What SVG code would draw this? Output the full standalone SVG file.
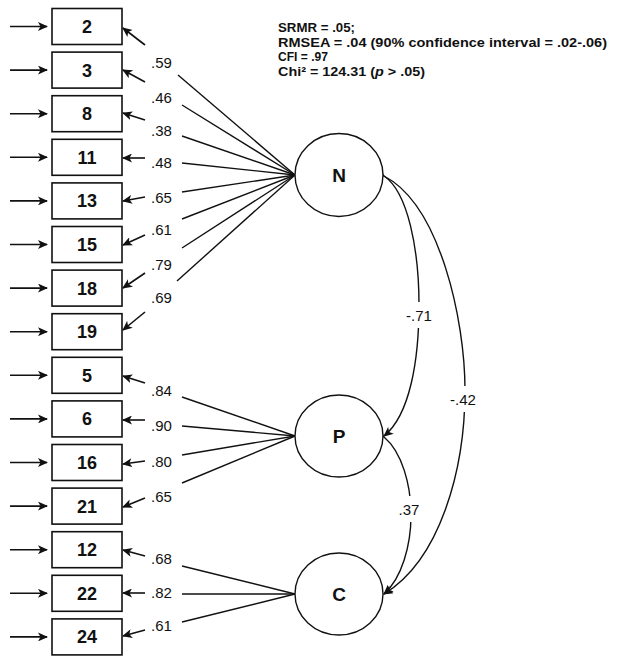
<svg xmlns="http://www.w3.org/2000/svg" width="617" height="656" viewBox="0 0 617 656">
<defs>
<marker id="ah" markerUnits="userSpaceOnUse" markerWidth="10" markerHeight="9" refX="9" refY="4.5" orient="auto">
<path d="M0,0 L10,4.5 L0,9 L2.5,4.5 z" fill="#111"/>
</marker>
<style>
.box{fill:#fff;stroke:#111;stroke-width:1.6}
.lat{fill:#fff;stroke:#111;stroke-width:1.4}
.ln{stroke:#111;stroke-width:1.4;fill:none}
.arr{stroke:#111;stroke-width:1.6;fill:none;marker-end:url(#ah)}
.cov{stroke:#111;stroke-width:1.4;fill:none;marker-start:url(#ah);marker-end:url(#ah)}
.num{font-family:"Liberation Sans",Arial,sans-serif;font-weight:bold;font-size:18px;fill:#111;text-anchor:middle}
.lbl{font-family:"Liberation Sans",Arial,sans-serif;font-size:15px;fill:#111}
.hd{font-family:"Liberation Sans",Arial,sans-serif;font-weight:bold;font-size:12.5px;fill:#111}
.lv{font-family:"Liberation Sans",Arial,sans-serif;font-weight:bold;font-size:19px;fill:#111;text-anchor:middle}
</style>
</defs>
<rect width="617" height="656" fill="#fff"/>

<g id="fit">
<text class="hd" x="278" y="32" textLength="77" lengthAdjust="spacingAndGlyphs">SRMR = .05;</text>
<text class="hd" x="278" y="46.5" textLength="329" lengthAdjust="spacingAndGlyphs">RMSEA = .04 (90%  confidence interval = .02-.06)</text>
<text class="hd" x="278" y="61" textLength="50" lengthAdjust="spacingAndGlyphs">CFI = .97</text>
<text class="hd" x="278" y="75.5" textLength="147" lengthAdjust="spacingAndGlyphs">Chi² = 124.31 (<tspan font-style="italic">p</tspan> &gt; .05)</text>
</g>

<g id="connectors">
<!-- error arrows -->
<line class="arr" x1="10" y1="26.5" x2="47" y2="26.5"/>
<line class="arr" x1="10" y1="70.1" x2="47" y2="70.1"/>
<line class="arr" x1="10" y1="113.7" x2="47" y2="113.7"/>
<line class="arr" x1="10" y1="157.3" x2="47" y2="157.3"/>
<line class="arr" x1="10" y1="200.9" x2="47" y2="200.9"/>
<line class="arr" x1="10" y1="244.5" x2="47" y2="244.5"/>
<line class="arr" x1="10" y1="288.1" x2="47" y2="288.1"/>
<line class="arr" x1="10" y1="331.7" x2="47" y2="331.7"/>
<line class="arr" x1="10" y1="375.3" x2="47" y2="375.3"/>
<line class="arr" x1="10" y1="418.9" x2="47" y2="418.9"/>
<line class="arr" x1="10" y1="462.5" x2="47" y2="462.5"/>
<line class="arr" x1="10" y1="506.1" x2="47" y2="506.1"/>
<line class="arr" x1="10" y1="549.7" x2="47" y2="549.7"/>
<line class="arr" x1="10" y1="593.3" x2="47" y2="593.3"/>
<line class="arr" x1="10" y1="636.9" x2="47" y2="636.9"/>

<!-- N loadings -->
<line class="ln" x1="295" y1="175" x2="178" y2="75"/>
<line class="ln" x1="295" y1="175" x2="182" y2="105"/>
<line class="ln" x1="295" y1="175" x2="182" y2="136"/>
<line class="ln" x1="295" y1="175" x2="182" y2="163"/>
<line class="ln" x1="295" y1="175" x2="182" y2="192"/>
<line class="ln" x1="295" y1="175" x2="182" y2="219"/>
<line class="ln" x1="295" y1="175" x2="182" y2="248"/>
<line class="ln" x1="295" y1="175" x2="177" y2="281"/>
<line class="arr" x1="145" y1="45" x2="123" y2="28"/>
<line class="arr" x1="145" y1="82" x2="123" y2="70"/>
<line class="arr" x1="145" y1="120" x2="123" y2="113"/>
<line class="arr" x1="145" y1="158" x2="123" y2="158"/>
<line class="arr" x1="145" y1="197" x2="123" y2="201"/>
<line class="arr" x1="145" y1="235" x2="123" y2="245"/>
<line class="arr" x1="145" y1="273" x2="123" y2="288"/>
<line class="arr" x1="145" y1="312" x2="123" y2="330"/>

<!-- P loadings -->
<line class="ln" x1="295" y1="436" x2="182" y2="397"/>
<line class="ln" x1="295" y1="436" x2="182" y2="426"/>
<line class="ln" x1="295" y1="436" x2="182" y2="455"/>
<line class="ln" x1="295" y1="436" x2="182" y2="483"/>
<line class="arr" x1="145" y1="383" x2="123" y2="376"/>
<line class="arr" x1="145" y1="420" x2="123" y2="420"/>
<line class="arr" x1="145" y1="461" x2="123" y2="464"/>
<line class="arr" x1="145" y1="498" x2="123" y2="507"/>

<!-- C loadings -->
<line class="ln" x1="295" y1="594" x2="182" y2="566"/>
<line class="ln" x1="295" y1="594" x2="182" y2="594"/>
<line class="ln" x1="295" y1="594" x2="182" y2="622"/>
<line class="arr" x1="145" y1="556" x2="123" y2="550"/>
<line class="arr" x1="145" y1="593" x2="123" y2="593"/>
<line class="arr" x1="145" y1="630" x2="123" y2="636"/>

<!-- covariances -->
<path class="cov" d="M384,176 C408,192 419,250 419,305 C419,360 410,415 384,436"/>
<path class="cov" d="M384,176 C440,205 465,320 465,390 C465,470 440,560 384,594"/>
<path class="cov" d="M384,437 C402,452 411,485 411,515 C411,545 402,578 384,594"/>
</g>

<g id="labels">
<text class="lbl" x="151" y="68">.59</text>
<text class="lbl" x="151" y="103">.46</text>
<text class="lbl" x="151" y="136">.38</text>
<text class="lbl" x="151" y="168">.48</text>
<text class="lbl" x="151" y="203">.65</text>
<text class="lbl" x="151" y="235">.61</text>
<text class="lbl" x="151" y="270">.79</text>
<text class="lbl" x="151" y="303">.69</text>
<text class="lbl" x="151" y="396">.84</text>
<text class="lbl" x="151" y="431">.90</text>
<text class="lbl" x="151" y="467">.80</text>
<text class="lbl" x="151" y="502">.65</text>
<text class="lbl" x="151" y="564">.68</text>
<text class="lbl" x="151" y="598">.82</text>
<text class="lbl" x="151" y="631">.61</text>
<rect x="401" y="302" width="36" height="26" fill="#fff"/>
<text class="lbl" x="419" y="321" text-anchor="middle">-.71</text>
<rect x="446" y="386" width="36" height="26" fill="#fff"/>
<text class="lbl" x="463" y="405" text-anchor="middle">-.42</text>
<rect x="395" y="496" width="30" height="26" fill="#fff"/>
<text class="lbl" x="409" y="515" text-anchor="middle">.37</text>
</g>

<g id="n2"><rect class="box" x="52" y="8.5" width="70" height="36"/><text class="num" x="87" y="33">2</text></g>
<g id="n3"><rect class="box" x="52" y="52.1" width="70" height="36"/><text class="num" x="87" y="76.6">3</text></g>
<g id="n8"><rect class="box" x="52" y="95.7" width="70" height="36"/><text class="num" x="87" y="120.2">8</text></g>
<g id="n11"><rect class="box" x="52" y="139.3" width="70" height="36"/><text class="num" x="87" y="163.8">11</text></g>
<g id="n13"><rect class="box" x="52" y="182.9" width="70" height="36"/><text class="num" x="87" y="207.4">13</text></g>
<g id="n15"><rect class="box" x="52" y="226.5" width="70" height="36"/><text class="num" x="87" y="251">15</text></g>
<g id="n18"><rect class="box" x="52" y="270.1" width="70" height="36"/><text class="num" x="87" y="294.6">18</text></g>
<g id="n19"><rect class="box" x="52" y="313.7" width="70" height="36"/><text class="num" x="87" y="338.2">19</text></g>
<g id="n5"><rect class="box" x="52" y="357.3" width="70" height="36"/><text class="num" x="87" y="381.8">5</text></g>
<g id="n6"><rect class="box" x="52" y="400.9" width="70" height="36"/><text class="num" x="87" y="425.4">6</text></g>
<g id="n16"><rect class="box" x="52" y="444.5" width="70" height="36"/><text class="num" x="87" y="469">16</text></g>
<g id="n21"><rect class="box" x="52" y="488.1" width="70" height="36"/><text class="num" x="87" y="512.6">21</text></g>
<g id="n12"><rect class="box" x="52" y="531.7" width="70" height="36"/><text class="num" x="87" y="556.2">12</text></g>
<g id="n22"><rect class="box" x="52" y="575.3" width="70" height="36"/><text class="num" x="87" y="599.8">22</text></g>
<g id="n24"><rect class="box" x="52" y="618.9" width="70" height="36"/><text class="num" x="87" y="643.4">24</text></g>

<g id="N"><ellipse class="lat" cx="339" cy="175" rx="44" ry="41.5"/><text class="lv" x="339" y="182">N</text></g>
<g id="P"><ellipse class="lat" cx="339" cy="436" rx="44" ry="41"/><text class="lv" x="339" y="443">P</text></g>
<g id="C"><ellipse class="lat" cx="339" cy="594" rx="44" ry="41"/><text class="lv" x="339" y="601">C</text></g>
</svg>
